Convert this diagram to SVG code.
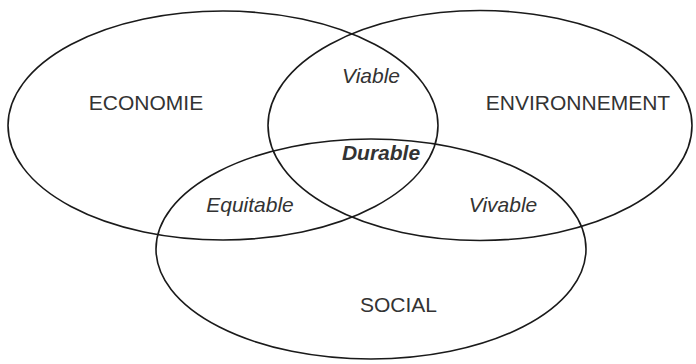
<svg xmlns="http://www.w3.org/2000/svg" width="696" height="364" viewBox="0 0 696 364">
  <style>
    .ring { fill: none; stroke: #1a1a1a; stroke-width: 1.6; }
    .lbl { font-family: "Liberation Sans", Arial, sans-serif; font-size: 21px; fill: #333333; text-anchor: middle; }
    .it { font-style: italic; }
    .bd { font-weight: bold; }
  </style>
  <rect width="696" height="364" fill="#ffffff"/>
  <g id="economie">
    <ellipse class="ring" cx="223" cy="125.5" rx="215" ry="114.5"/>
    <text class="lbl" x="146" y="110">ECONOMIE</text>
  </g>
  <g id="environnement">
    <ellipse class="ring" cx="480" cy="125.5" rx="212" ry="115"/>
    <text class="lbl" x="578" y="110">ENVIRONNEMENT</text>
  </g>
  <g id="social">
    <ellipse class="ring" cx="371" cy="249" rx="215" ry="110"/>
    <text class="lbl" x="398.5" y="312">SOCIAL</text>
  </g>
  <g id="viable">
    <text class="lbl it" x="371" y="83">Viable</text>
  </g>
  <g id="durable">
    <text class="lbl it bd" x="381" y="160">Durable</text>
  </g>
  <g id="equitable">
    <text class="lbl it" x="250" y="212">Equitable</text>
  </g>
  <g id="vivable">
    <text class="lbl it" x="503" y="212">Vivable</text>
  </g>
  <g id="connectors"></g>
</svg>
